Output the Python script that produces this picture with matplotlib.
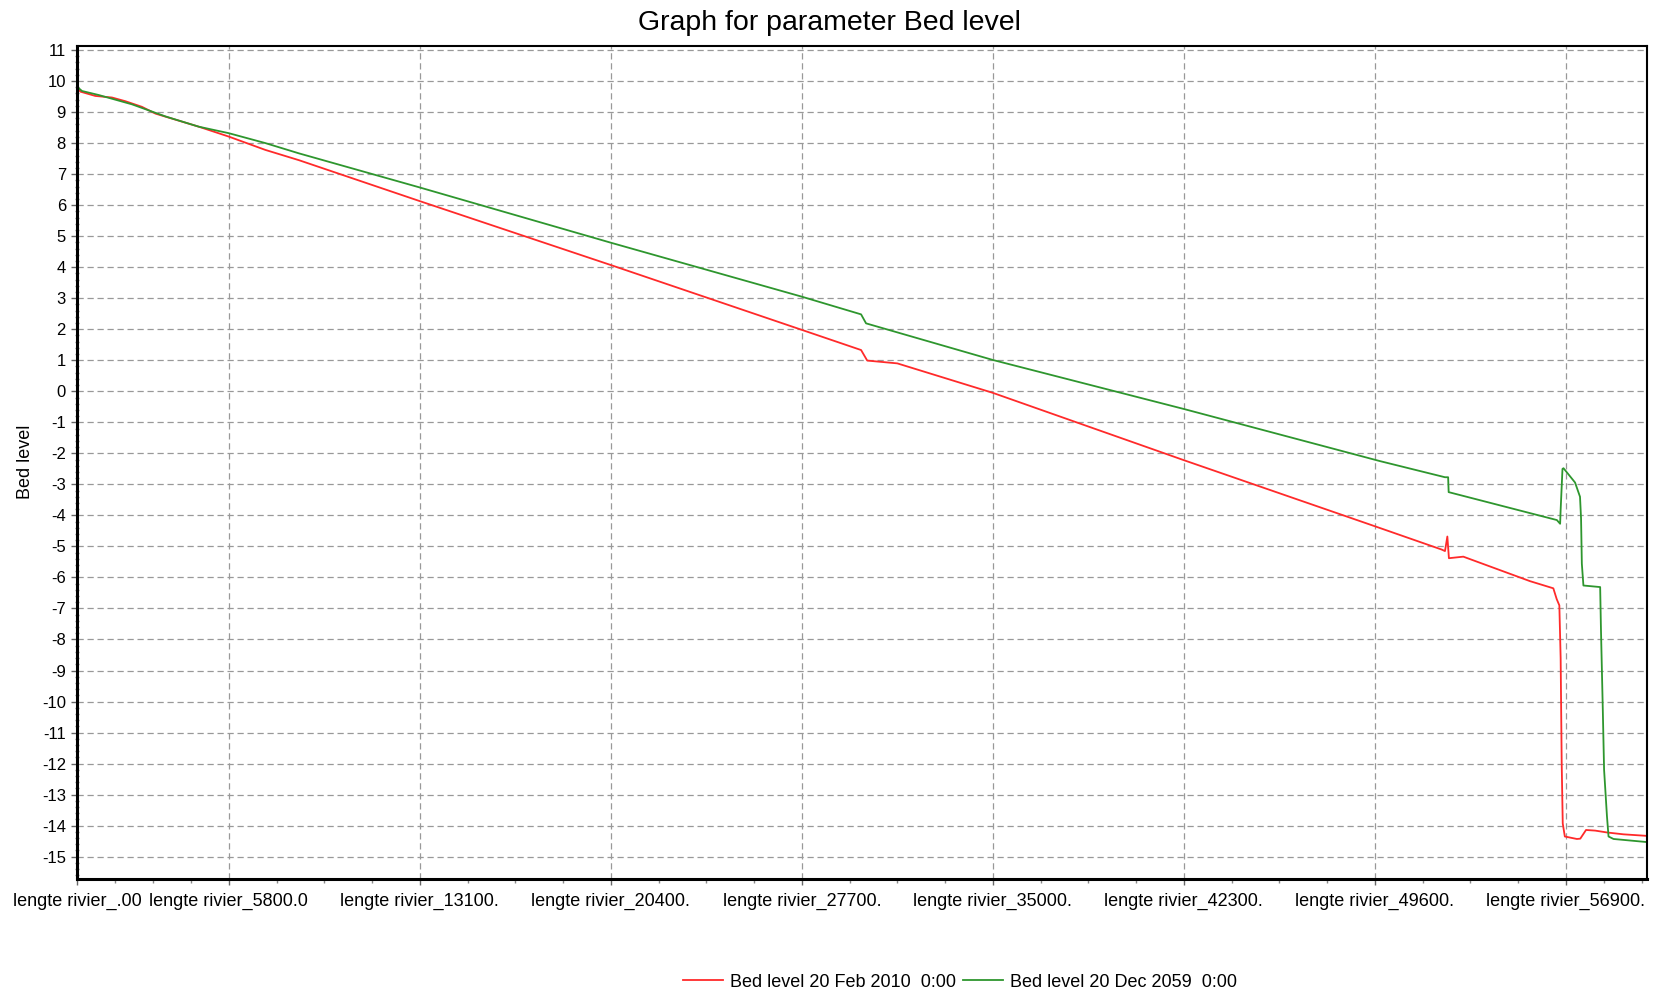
import matplotlib
matplotlib.use("Agg")
import matplotlib.pyplot as plt
import numpy as np

plt.rcParams['font.family'] = ['Liberation Sans', 'DejaVu Sans']
plt.rcParams['axes.unicode_minus'] = False

# chainage along the river (m) and bed level (m)
x_2010 = [0, 125, 700, 1335, 1850, 2480, 3000, 4650, 5800, 7200, 8480, 13100,
          20400, 27700, 29965, 30200, 31350, 35000, 42300, 49600, 52150, 52280,
          52370, 52430, 52980, 55530, 56420, 56550, 56650, 56700, 56740, 56780,
          56860, 57320, 57450, 57670, 58020, 58470, 59100, 60000]
bed_2010 = [9.85, 9.66, 9.52, 9.47, 9.35, 9.17, 8.95, 8.53, 8.21, 7.78, 7.45, 6.13,
            4.07, 1.98, 1.33, 0.99, 0.90, -0.05, -2.22, -4.35, -5.10, -5.15,
            -4.68, -5.38, -5.33, -6.12, -6.35, -6.70, -6.90, -8.60, -11.99, -13.93,
            -14.35, -14.43, -14.42, -14.14, -14.16, -14.22, -14.28, -14.33]

x_2059 = [0, 190, 830, 2100, 3380, 4650, 5800, 7200, 8480, 13100, 20400, 27700,
          29965, 30155, 35000, 42300, 49794, 52280, 52400, 52420, 56555, 56680,
          56700, 56770, 56810, 57250, 57440, 57480, 57510, 57570, 58210, 58240,
          58310, 58360, 58470, 58530, 58720, 59360, 60000]
bed_2059 = [9.82, 9.68, 9.55, 9.25, 8.86, 8.53, 8.32, 8.00, 7.67, 6.57, 4.79, 3.05,
            2.48, 2.19, 1.01, -0.57, -2.25, -2.77, -2.77, -3.25, -4.15, -4.27,
            -3.82, -2.50, -2.48, -2.94, -3.40, -4.10, -5.56, -6.26, -6.31, -7.65,
            -10.23, -12.20, -13.70, -14.35, -14.43, -14.48, -14.53]

tick_pos = [0, 5800, 13100, 20400, 27700, 35000, 42300, 49600, 56900]
tick_labels = ["lengte rivier_.00", "lengte rivier_5800.0", "lengte rivier_13100.",
               "lengte rivier_20400.", "lengte rivier_27700.", "lengte rivier_35000.",
               "lengte rivier_42300.", "lengte rivier_49600.", "lengte rivier_56900."]

fig = plt.figure(figsize=(16.54, 9.96), dpi=100)
ax = fig.add_axes([77 / 1654, 1 - 879 / 996, (1647 - 77) / 1654, (879 - 46) / 996])

ax.plot(x_2010, bed_2010, color='#ff2a2a', lw=1.3, label='Bed level 20 Feb 2010  0:00')
ax.plot(x_2059, bed_2059, color='#2e962e', lw=1.3, label='Bed level 20 Dec 2059  0:00')

ax.set_xlim(0, 60000)
ax.set_ylim(-15.72, 11.13)

ax.set_xticks(tick_pos)
ax.set_xticklabels(tick_labels, fontsize=13)
minor = list(np.arange(1450, 5800, 1450))
for a, b in zip(tick_pos[1:-1], tick_pos[2:]):
    minor += list(np.linspace(a, b, 5)[1:-1])
minor += [56900 + 1450, 56900 + 2900]
ax.set_xticks(minor, minor=True)

ax.set_yticks(range(-15, 12))
ax.set_yticks(np.arange(-15.6, 11.1, 0.2), minor=True)
ax.tick_params(axis='y', labelsize=12)

ax.tick_params(which='major', length=4, width=1, color='#666666', pad=4)
ax.tick_params(axis='x', which='major', pad=6)
ax.tick_params(which='minor', length=3, width=1, color='#888888')
ax.tick_params(axis='y', which='minor', direction='inout', length=3)

ax.grid(True, which='major', color='#999999', lw=0.9, linestyle=(0, (5, 3)))

for side in ['left', 'bottom']:
    ax.spines[side].set_linewidth(2.2)
for side in ['top', 'right']:
    ax.spines[side].set_linewidth(1.5)

fig.text(829 / 1654, 1 - 23 / 996, "Graph for parameter Bed level",
         fontsize=20.5, ha='center', va='center')
fig.text(26 / 1654, 1 - 462 / 996, "Bed level", fontsize=13,
         rotation=90, ha='center', va='center')

fig.legend(loc='center', bbox_to_anchor=(960 / 1654, 1 - 982 / 996), ncol=2,
           frameon=False, fontsize=13, handlelength=2.2, handletextpad=0.4,
           columnspacing=0.4)

fig.savefig("out.png", dpi=100)
